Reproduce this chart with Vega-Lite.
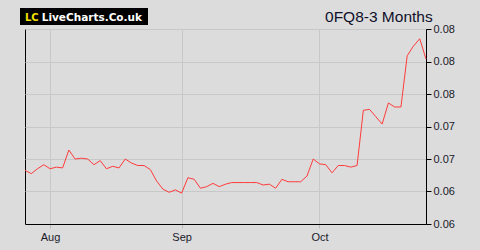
{
  "$schema": "https://vega.github.io/schema/vega-lite/v6.json",
  "width": 401,
  "height": 195,
  "autosize": {"type": "none"},
  "padding": {"left": 25, "top": 29, "right": 54, "bottom": 26},
  "background": "#dcdcdc",
  "config": {
    "view": {"fill": "#f8f9ff", "stroke": "#000000", "strokeWidth": 1},
    "axis": {"labelFont": "Liberation Sans", "labelFontSize": 11, "labelColor": "#1a1a2a", "gridColor": "#c8c8c8", "gridOpacity": 1, "gridWidth": 1, "domainColor": "#000000", "title": null}
  },
  "layer": [
    {
      "data": {"values": [
        {"d": "2025-07-28", "v": 0.0666}, {"d": "2025-07-29", "v": 0.0662}, {"d": "2025-07-30", "v": 0.0668}, {"d": "2025-07-31", "v": 0.0673},
        {"d": "2025-08-01", "v": 0.0668}, {"d": "2025-08-04", "v": 0.0670}, {"d": "2025-08-05", "v": 0.0669}, {"d": "2025-08-06", "v": 0.0691},
        {"d": "2025-08-07", "v": 0.0680}, {"d": "2025-08-08", "v": 0.0681}, {"d": "2025-08-11", "v": 0.0680}, {"d": "2025-08-12", "v": 0.0673},
        {"d": "2025-08-13", "v": 0.0678}, {"d": "2025-08-14", "v": 0.0668}, {"d": "2025-08-15", "v": 0.0671}, {"d": "2025-08-18", "v": 0.0669},
        {"d": "2025-08-19", "v": 0.0680}, {"d": "2025-08-20", "v": 0.0675}, {"d": "2025-08-21", "v": 0.0672}, {"d": "2025-08-22", "v": 0.0672},
        {"d": "2025-08-25", "v": 0.0667}, {"d": "2025-08-26", "v": 0.0653}, {"d": "2025-08-27", "v": 0.0643}, {"d": "2025-08-28", "v": 0.0639},
        {"d": "2025-08-29", "v": 0.0642}, {"d": "2025-09-01", "v": 0.0638}, {"d": "2025-09-02", "v": 0.0657}, {"d": "2025-09-03", "v": 0.0655},
        {"d": "2025-09-04", "v": 0.0644}, {"d": "2025-09-05", "v": 0.0646}, {"d": "2025-09-08", "v": 0.0650}, {"d": "2025-09-09", "v": 0.0646},
        {"d": "2025-09-10", "v": 0.0649}, {"d": "2025-09-11", "v": 0.0651}, {"d": "2025-09-12", "v": 0.0651}, {"d": "2025-09-15", "v": 0.0651},
        {"d": "2025-09-16", "v": 0.0651}, {"d": "2025-09-17", "v": 0.0651}, {"d": "2025-09-18", "v": 0.0648}, {"d": "2025-09-19", "v": 0.0649},
        {"d": "2025-09-22", "v": 0.0644}, {"d": "2025-09-23", "v": 0.0655}, {"d": "2025-09-24", "v": 0.0652}, {"d": "2025-09-25", "v": 0.0652},
        {"d": "2025-09-26", "v": 0.0652}, {"d": "2025-09-29", "v": 0.0659}, {"d": "2025-09-30", "v": 0.0680}, {"d": "2025-10-01", "v": 0.0674},
        {"d": "2025-10-02", "v": 0.0673}, {"d": "2025-10-03", "v": 0.0663}, {"d": "2025-10-06", "v": 0.0672}, {"d": "2025-10-07", "v": 0.0672},
        {"d": "2025-10-08", "v": 0.0670}, {"d": "2025-10-09", "v": 0.0672}, {"d": "2025-10-10", "v": 0.0740}, {"d": "2025-10-13", "v": 0.0741},
        {"d": "2025-10-14", "v": 0.0732}, {"d": "2025-10-15", "v": 0.0723}, {"d": "2025-10-16", "v": 0.0749}, {"d": "2025-10-17", "v": 0.0744},
        {"d": "2025-10-20", "v": 0.0744}, {"d": "2025-10-21", "v": 0.0807}, {"d": "2025-10-22", "v": 0.0819}, {"d": "2025-10-23", "v": 0.0828},
        {"d": "2025-10-24", "v": 0.0803}
      ]},
      "mark": {"type": "line", "color": "#ff3b3b", "strokeWidth": 1},
      "encoding": {
        "x": {"field": "d", "type": "ordinal", "sort": "ascending", "scale": {"type": "point", "padding": 0},
          "axis": {"values": ["2025-08-01", "2025-09-01", "2025-10-01"], "labelExpr": "datum.value == '2025-08-01' ? 'Aug' : datum.value == '2025-09-01' ? 'Sep' : 'Oct'", "labelAngle": 0, "grid": true, "tickSize": 4, "tickColor": "#bbbbbb", "labelPadding": 3, "domain": true}},
        "y": {"field": "v", "type": "quantitative", "scale": {"domain": [0.06, 0.084], "nice": false, "zero": false},
          "axis": {"orient": "right", "values": [0.06, 0.064, 0.068, 0.072, 0.076, 0.08, 0.084], "format": ".2f", "grid": true, "tickSize": 5, "tickColor": "#000000", "labelPadding": 2}}
      }
    },
    {
      "data": {"values": [{"brand": "LiveCharts.Co.uk", "short": "LC", "title": "0FQ8-3 Months"}]},
      "layer": [
        {"mark": {"type": "rect", "color": "#000000", "x": -5, "x2": 123, "y": -21, "y2": -4}, "encoding": {}},
        {"mark": {"type": "text", "x": 0, "y": -8.5, "align": "left", "baseline": "alphabetic", "font": "DejaVu Sans", "fontWeight": "bold", "fontSize": 10, "color": "#f0e000"}, "encoding": {"text": {"field": "short"}}},
        {"mark": {"type": "text", "x": 16.7, "y": -8.5, "align": "left", "baseline": "alphabetic", "font": "DejaVu Sans", "fontWeight": "bold", "fontSize": 10.5, "color": "#ffffff"}, "encoding": {"text": {"field": "brand"}}},
        {"mark": {"type": "text", "x": 407.7, "y": -7, "align": "right", "baseline": "alphabetic", "font": "Liberation Sans", "fontSize": 15.5, "color": "#10102a"}, "encoding": {"text": {"field": "title"}}}
      ]
    }
  ]
}
